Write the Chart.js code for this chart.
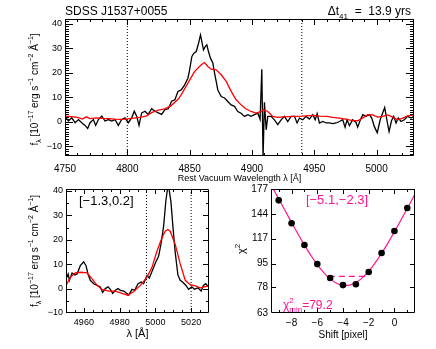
<!DOCTYPE html>
<html>
<head>
<meta charset="utf-8">
<script src="https://cdn.jsdelivr.net/npm/chart.js@4.4.0/dist/chart.umd.min.js"></script>
<style>
  html, body { margin: 0; padding: 0; background: #fff; }
  #wrap { position: relative; width: 436px; height: 349px; overflow: hidden; }
  canvas { position: absolute; }
</style>
</head>
<body>
<div id="wrap">
  <canvas id="specChart" width="436" height="189" style="left:0;top:0"></canvas>
  <canvas id="oiiiChart" width="220" height="169" style="left:0;top:180px"></canvas>
  <canvas id="chiChart" width="216" height="169" style="left:220px;top:180px"></canvas>
</div>
<script>
'use strict';

/* ── Top panel: broad line region, rest wavelength (Å) vs flux ── */
var specBlackWave = [4750.1,4752.7,4755.4,4758.1,4760.8,4763.4,4766.1,4768.2,4770.1,4772.8,4774.6,4776.8,4779.5,4782.1,4784.8,4787.5,4790.1,4792.8,4795.5,4798.1,
  4800.8,4803.5,4805.6,4807.5,4809.4,4811.5,4814.2,4816.8,4819.5,4822.2,4824.9,4827.5,4830.2,4832.9,4835.5,4838.2,4840.6,4843.2,4845.9,4848.6,
  4849.9,4851.8,4853.4,4855.3,4857.1,4858.7,4859.8,4861.1,4862.5,4863.8,4865.1,4866.7,4868.6,4870.0,4871.3,4872.6,4875.3,4878.0,4880.6,4883.3,
  4886.0,4888.6,4891.3,4894.0,4896.7,4899.3,4902.0,4904.7,4906.5,4907.9,4908.9,4910.0,4911.4,4912.7,4915.4,4918.0,4920.7,4923.4,4926.1,4928.7,
  4931.4,4934.1,4936.2,4938.1,4940.8,4943.4,4946.1,4948.8,4950.7,4952.3,4954.1,4956.8,4959.5,4962.1,4964.8,4967.5,4970.2,4972.8,4974.7,4976.3,
  4978.2,4980.8,4983.5,4984.8,4987.0,4988.9,4991.5,4994.2,4996.1,4998.2,5000.5,5003.0,5006.5,5008.5,5010.0,5012.0,5013.7,5015.6,5017.4,5019.6,
  5022.2,5024.9,5027.6,5030.0];
var specBlackFlux = [2.3,0.3,1.6,-0.4,0.9,-0.4,-1.5,-2.8,-0.4,0.9,-1.5,0.9,2.3,0.3,0.9,0.3,0.9,-1.5,0.9,1.6,
  -0.4,1.6,4.3,2.3,-1.5,3.6,4.3,3.0,5.3,4.3,3.6,3.0,5.0,5.3,8.4,9.0,12.4,13.0,15.0,17.8,
  21.0,26.7,28.0,28.7,32.0,35.5,32.8,29.4,30.7,31.4,28.7,26.0,24.0,19.9,16.5,13.0,10.3,9.7,8.3,6.9,
  6.3,4.2,3.5,2.2,2.9,2.2,2.9,3.5,1.0,21.5,-15.0,8.0,-3.3,2.2,2.2,0.8,-1.2,0.8,2.2,0.1,
  2.2,2.2,-0.5,1.5,0.8,2.2,1.1,2.9,0.8,3.3,-0.5,0.1,-0.5,-0.5,-0.8,-0.5,0.1,0.8,-2.2,0.8,
  -1.6,0.8,-0.3,-2.2,0.8,2.9,2.2,2.9,1.5,-2.0,-4.5,1.0,5.8,0.0,-4.0,0.5,2.2,-0.5,1.5,0.1,
  0.8,2.2,1.5,2.2];
var specRedWave = [4750,4755,4760,4764,4767,4770,4775,4780,4785,4790,4795,4800,4805,4810,4815,4820,4825,4830,4835,4840.9,
  4843.2,4848.6,4853.9,4859.3,4861.9,4864.6,4867.3,4871.3,4875.3,4879.3,4883.3,4887.3,4891.3,4895.3,4899.3,4903.3,4907.3,4909.5,4912.7,4916.7,
  4920.7,4925,4934,4940,4948.8,4954,4960,4965,4970,4975,4980.8,4984.8,4988.9,4992.9,4996.9,5000.9,5004.9,5008.9,5012.9,5016.9,
  5020.9,5024.9,5030];
var specRedFlux = [2.3,2.1,1.8,1.1,2.0,1.3,1.6,1.4,1.3,1.1,1.0,1.2,1.5,1.8,2.3,3.8,4.8,5.3,6.5,9.3,
  11.0,15.8,20.5,23.3,24.2,22.6,21.5,21.2,19.2,16.5,12.4,9.0,6.9,5.2,4.2,3.5,4.2,4.9,4.2,2.2,
  1.8,2.0,2.2,2.3,2.6,2.3,2.2,1.8,1.5,1.1,0.5,0.4,1.6,2.9,2.8,1.9,2.2,2.8,1.9,0.8,
  1.5,2.4,2.8];
var specXTicks = [4750, 4800, 4850, 4900, 4950, 5000];
var specYTicks = [-10, 0, 10, 20, 30, 40];
var specMarks  = [4800, 4940];

/* ── Bottom left: [OIII] window ── */
var oiiiBlackWave = [4950,4951.2,4951.9,4953.4,4954.9,4956.2,4958,4959.9,4961.2,4962.3,4963.6,4965.5,4967.4,4969.2,4970.5,4972,4973.5,4974.8,4976.1,4977.6,
  4979.1,4980.4,4982.3,4984.1,4985.1,4986.9,4988.4,4990.3,4992.1,4993.4,4995.3,4996.6,4998.1,5000,5001.8,5003.1,5004.6,5005.9,5007.2,5008.7,
  5009.8,5011.1,5012.6,5013.9,5015.2,5017.1,5018.6,5020.4,5021.9,5023.8,5025.6,5026.9,5028.2,5029.7];
var oiiiBlackFlux = [4,6,3.4,6.4,5.6,6,9.4,11,9.4,6,3.4,2,1.3,0.7,-1.6,0,0.7,-0.3,-2,-0.7,
  0,-0.7,-1,-2,-2.7,-0.3,-0.7,2,2.7,2,5.4,4.3,7,10.5,13.2,18.1,25.5,36.2,43,35.6,
  25.5,14.8,5.6,3.4,2.7,1.3,-0.3,0.7,-0.3,0.3,-1,1.3,2,0.7];
var oiiiRedWave = [4950,4952.5,4955.2,4958,4961.8,4964.6,4967.4,4970.1,4973.9,4977.6,4981.3,4984.5,4987.8,4991.6,4995.3,4998.1,5000.9,5003.7,5005.5,5007,
  5008.3,5011.1,5013.9,5016.7,5019.5,5022.3,5025.1,5027.5,5029.7];
var oiiiRedFlux = [1.3,4.7,6.4,6.7,6.4,4,1.3,-0.3,-1,-1,-2,-2.7,-1.3,1.3,4.7,8.7,15.4,20.8,23.5,24.2,
  23.5,18.1,10.1,3.4,1.6,1.1,0.3,0.7,1.1];
var oiiiXTicks = [4960, 4980, 5000, 5020];
var oiiiYTicks = [-10, 0, 10, 20, 30, 40];
var oiiiMarks  = [4995, 5020];

/* ── Bottom right: chi^2 against shift ── */
var chiShift = [-9, -8, -7, -6, -5, -4, -3, -2, -1, 0, 1];
var chiValue = [161, 133, 111, 94.7, 84.3, 79.5, 80, 88.7, 103.8, 124.7, 151];
var chiCurveShift = [-9.5,-9,-8.5,-8,-7.5,-7,-6.5,-6,-5.5,-5,-4.5,-4,-3.5,-3,-2.5,-2,-1.5,-1,-0.5,0,0.5,1,1.5,1.6];
var chiCurveValue = [180,163,147.7,133.9,121.6,110.9,101.8,94.2,88.2,83.7,80.7,79.3,79.5,81.2,84.4,89.2,95.6,103.5,113,124,136.5,150.6,166.3,169.6];
var chiDashShift = [-5.1, -2.3];
var chiDashValue = 85.5;
var chiXTicks = [-8, -6, -4, -2, 0];
var chiYTicks = [63, 78, 95, 117, 144, 177];

var FONT = "'Liberation Sans', Arial, sans-serif";
var PINK = '#ff1493';

Chart.defaults.font.family = FONT;
Chart.defaults.color = '#000';

/* ── helpers ───────────────────────────────────── */
function pts(xs, ys) { return xs.map(function (x, i) { return { x: x, y: ys[i] }; }); }
function vline(x, lo, hi) { return [{ x: x, y: lo }, { x: x, y: hi }]; }
function steps(lo, hi, st) { var a = []; for (var v = lo; v <= hi + 1e-9; v += st) a.push(+v.toFixed(3)); return a; }
function minus(v) { return v < 0 ? '\u2212' + Math.abs(v) : String(v); }
function fixTicks(vals) { return function (scale) { scale.ticks = vals.map(function (v) { return { value: v }; }); }; }

/* text with sub/superscripts; segs: {t} | {sup, sub} */
function drawRich(ctx, segs, x, y, size, align, angle, color) {
  var small = Math.round(size * 0.7);
  ctx.save();
  ctx.translate(x, y);
  if (angle) ctx.rotate(angle);
  ctx.fillStyle = color || '#000';
  ctx.textBaseline = 'alphabetic';
  ctx.textAlign = 'left';
  function w(t, s) { ctx.font = s + 'px ' + FONT; return ctx.measureText(t).width; }
  var total = 0;
  segs.forEach(function (s) {
    if (s.t !== undefined) total += w(s.t, size);
    else total += Math.max(s.sup ? w(s.sup, small) : 0, s.sub ? w(s.sub, small) : 0);
  });
  var cx = align === 'center' ? -total / 2 : align === 'right' ? -total : 0;
  segs.forEach(function (s) {
    if (s.t !== undefined) {
      ctx.font = size + 'px ' + FONT; ctx.fillText(s.t, cx, 0); cx += ctx.measureText(s.t).width;
    } else {
      var adv = 0;
      ctx.font = small + 'px ' + FONT;
      if (s.sup) { ctx.fillText(s.sup, cx, -size * 0.45); adv = Math.max(adv, ctx.measureText(s.sup).width); }
      if (s.sub) { ctx.fillText(s.sub, cx, size * 0.3); adv = Math.max(adv, ctx.measureText(s.sub).width); }
      cx += adv;
    }
  });
  ctx.restore();
}

var fluxTitle = [{ t: 'f' }, { sub: '\u03bb' }, { t: ' [10' }, { sup: '\u221217' }, { t: ' erg s' }, { sup: '\u22121' },
  { t: ' cm' }, { sup: '\u22122' }, { t: ' \u00c5' }, { sup: '\u22121' }, { t: ']' }];

/* ── IDL-like box: frame plus inward ticks on all four sides ── */
var idlAxes = {
  id: 'idlAxes',
  afterDatasetsDraw: function (chart, args, o) {
    var a = chart.chartArea, ctx = chart.ctx, sx = chart.scales.x, sy = chart.scales.y;
    ctx.save();
    ctx.strokeStyle = '#000';
    ctx.lineWidth = 1;
    ctx.beginPath();
    function seg(x1, y1, x2, y2) { ctx.moveTo(x1, y1); ctx.lineTo(x2, y2); }
    function xt(vals, len) {
      vals.forEach(function (v) {
        var p = Math.round(sx.getPixelForValue(v)) + 0.5;
        if (p < a.left || p > a.right) return;
        seg(p, a.bottom, p, a.bottom - len); seg(p, a.top, p, a.top + len);
      });
    }
    function yt(vals, len) {
      vals.forEach(function (v) {
        var p = Math.round(sy.getPixelForValue(v)) + 0.5;
        if (p < a.top || p > a.bottom) return;
        seg(a.left, p, a.left + len, p); seg(a.right, p, a.right - len, p);
      });
    }
    xt(o.xMinor, o.xLen[1]); xt(o.xMajor, o.xLen[0]);
    yt(o.yMinor, o.yLen[1]); yt(o.yMajor, o.yLen[0]);
    ctx.rect(Math.round(a.left) + 0.5, Math.round(a.top) + 0.5, Math.round(a.right - a.left) - 1, Math.round(a.bottom - a.top) - 1);
    ctx.stroke();
    ctx.restore();
  }
};

function baseScale(vals, font, pad, cb) {
  return {
    type: 'linear',
    afterBuildTicks: fixTicks(vals),
    grid: { display: false, drawTicks: false },
    border: { display: false },
    ticks: { font: { size: font }, color: '#000', padding: pad, maxRotation: 0, autoSkip: false, callback: cb || minus }
  };
}

function common(padding, idl) {
  return {
    responsive: false, animation: false, events: [],
    layout: { padding: padding },
    plugins: { legend: { display: false }, tooltip: { enabled: false }, idlAxes: idl }
  };
}

/* ══════════════════════════════════════════════════
   1. Top panel
   ══════════════════════════════════════════════════ */
(function () {
  var opts = common({ top: 19, right: 22, left: 0, bottom: 0 }, {
    xMajor: specXTicks, xMinor: steps(4750, 5030, 10), xLen: [6, 3],
    yMajor: specYTicks, yMinor: steps(-14, 42, 1), yLen: [8, 4]
  });
  var x = baseScale(specXTicks, 10, 7);
  x.min = 4750; x.max = 5030;
  x.afterFit = function (s) { s.height = 33; };
  x.title = { display: true, text: 'Rest Vacuum Wavelength \u03bb [\u00c5]', font: { size: 9 }, color: '#000', padding: { top: 0, bottom: 5 } };
  var y = baseScale(specYTicks, 9, 3);
  y.min = -14; y.max = 42;
  y.afterFit = function (s) { s.width = 65; };
  opts.scales = { x: x, y: y };

  var texts = {
    id: 'specText',
    afterDraw: function (chart) {
      var ctx = chart.ctx, a = chart.chartArea;
      drawRich(ctx, [{ t: 'SDSS J1537+0055' }], a.left, 15, 12, 'left');
      drawRich(ctx, [{ t: '\u0394t' }, { sub: '41' }, { t: '  =  13.9 yrs' }], a.right - 3, 15, 12, 'right');
      drawRich(ctx, fluxTitle, 37.5, (a.top + a.bottom) / 2 + 2, 10, 'center', -Math.PI / 2);
    }
  };

  new Chart(document.getElementById('specChart'), {
    type: 'line',
    data: { datasets: [
      { data: pts(specRedWave, specRedFlux), borderColor: '#ff0000', borderWidth: 1.3, pointRadius: 0 },
      { data: pts(specBlackWave, specBlackFlux), borderColor: '#000', borderWidth: 1.3, pointRadius: 0 },
      { data: vline(specMarks[0], -14, 42), borderColor: '#000', borderWidth: 1, borderDash: [1, 2], pointRadius: 0 },
      { data: vline(specMarks[1], -14, 42), borderColor: '#000', borderWidth: 1, borderDash: [1, 2], pointRadius: 0 }
    ]},
    options: opts,
    plugins: [idlAxes, texts]
  });
})();

/* ══════════════════════════════════════════════════
   2. Bottom left — [OIII] window
   ══════════════════════════════════════════════════ */
(function () {
  var opts = common({ top: 9, right: 11, left: 0, bottom: 0 }, {
    xMajor: oiiiXTicks, xMinor: steps(4950, 5030, 5), xLen: [5, 3],
    yMajor: oiiiYTicks, yMinor: steps(-10, 40, 5), yLen: [6, 3]
  });
  var x = baseScale(oiiiXTicks, 9, 4);
  x.min = 4950; x.max = 5030;
  x.afterFit = function (s) { s.height = 36; };
  x.title = { display: true, text: '\u03bb [\u00c5]', font: { size: 11 }, color: '#000', padding: { top: 0, bottom: 8 } };
  var y = baseScale(oiiiYTicks, 9, 3);
  y.min = -10; y.max = 40.8;
  y.afterFit = function (s) { s.width = 66; };
  opts.scales = { x: x, y: y };

  var texts = {
    id: 'oiiiText',
    afterDraw: function (chart) {
      var ctx = chart.ctx, a = chart.chartArea;
      drawRich(ctx, [{ t: '[\u22121.3,0.2]' }], a.left + 13, a.top + 15.5, 13, 'left');
      drawRich(ctx, fluxTitle, 37.5, (a.top + a.bottom) / 2, 10, 'center', -Math.PI / 2);
    }
  };

  new Chart(document.getElementById('oiiiChart'), {
    type: 'line',
    data: { datasets: [
      { data: pts(oiiiRedWave, oiiiRedFlux), borderColor: '#ff0000', borderWidth: 1.3, pointRadius: 0 },
      { data: pts(oiiiBlackWave, oiiiBlackFlux), borderColor: '#000', borderWidth: 1.3, pointRadius: 0 },
      { data: vline(oiiiMarks[0], -10, 41), borderColor: '#000', borderWidth: 1, borderDash: [1, 2], pointRadius: 0 },
      { data: vline(oiiiMarks[1], -10, 41), borderColor: '#000', borderWidth: 1, borderDash: [1, 2], pointRadius: 0 }
    ]},
    options: opts,
    plugins: [idlAxes, texts]
  });
})();

/* ══════════════════════════════════════════════════
   3. Bottom right — chi^2 vs shift (log y)
   ══════════════════════════════════════════════════ */
(function () {
  var opts = common({ top: 9, right: 21, left: 0, bottom: 0 }, {
    xMajor: chiXTicks, xMinor: steps(-9, 1, 1), xLen: [5, 3],
    yMajor: chiYTicks, yMinor: [], yLen: [5, 3]
  });
  var x = baseScale(chiXTicks, 10, 4);
  x.min = -9.6; x.max = 1.6;
  x.afterFit = function (s) { s.height = 36; };
  x.title = { display: true, text: 'Shift [pixel]', font: { size: 10 }, color: '#000', padding: { top: 0, bottom: 8 } };
  var y = baseScale(chiYTicks, 10, 3, function (v) { return String(v); });
  y.type = 'logarithmic';
  y.min = 63; y.max = 177;
  y.afterFit = function (s) { s.width = 51; };
  opts.scales = { x: x, y: y };

  var texts = {
    id: 'chiText',
    afterDraw: function (chart) {
      var ctx = chart.ctx, a = chart.chartArea;
      drawRich(ctx, [{ t: '[\u22125.1,\u22122.3]' }], (a.left + a.right) / 2 - 6, a.top + 15, 13, 'center', 0, PINK);
      drawRich(ctx, [{ t: '\u03c7' }, { sup: '2', sub: 'min' }, { t: '=79.2' }], a.left + 12, a.bottom - 4.5, 12, 'left', 0, PINK);
      drawRich(ctx, [{ t: '\u03c7' }, { sup: '2' }], 25, (a.top + a.bottom) / 2 - 2, 11, 'center', -Math.PI / 2);
    }
  };

  new Chart(document.getElementById('chiChart'), {
    type: 'line',
    data: { datasets: [
      { data: pts(chiShift, chiValue), showLine: false, pointRadius: 3.3, pointBackgroundColor: '#000', pointBorderColor: '#000', pointBorderWidth: 0 },
      { data: pts(chiCurveShift, chiCurveValue), borderColor: PINK, borderWidth: 1.2, pointRadius: 0, tension: 0.4 },
      { data: [{ x: chiDashShift[0], y: chiDashValue }, { x: chiDashShift[1], y: chiDashValue }], borderColor: PINK, borderWidth: 1.2, borderDash: [6, 4], pointRadius: 0 }
    ]},
    options: opts,
    plugins: [idlAxes, texts]
  });
})();
</script>
</body>
</html>
